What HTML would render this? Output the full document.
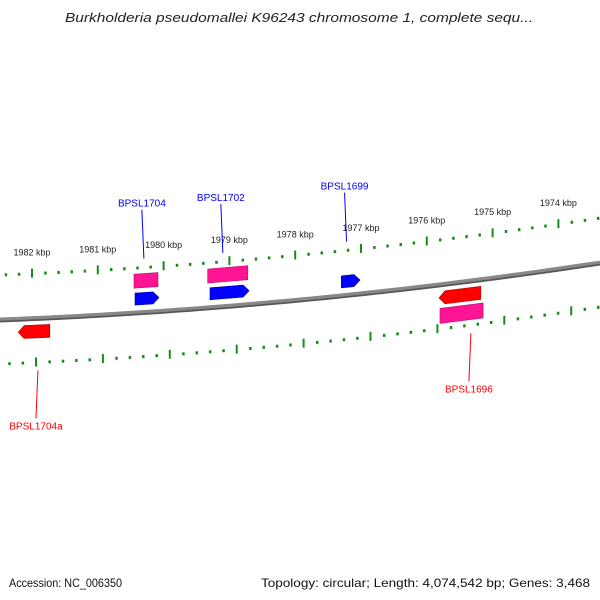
<!DOCTYPE html>
<html><head><meta charset="utf-8"><style>
body{margin:0;background:#fff}
svg{display:block;font-family:"Liberation Sans","DejaVu Sans",sans-serif}
</style></head><body>
<svg id="c" width="600" height="600" viewBox="0 0 600 600">
<text x="65" y="22" textLength="468" lengthAdjust="spacingAndGlyphs" font-size="13" font-style="italic" fill="#222">Burkholderia pseudomallei K96243 chromosome 1, complete sequ...</text>
<g id="g"></g>
<text x="9" y="587" textLength="113" lengthAdjust="spacingAndGlyphs" font-size="12" fill="#111">Accession: NC_006350</text>
<text x="261" y="587" textLength="329" lengthAdjust="spacingAndGlyphs" font-size="12" fill="#111">Topology: circular; Length: 4,074,542 bp; Genes: 3,468</text>
</svg>
<script>
const tickKbp=[1982,1981,1980,1979,1978,1977,1976,1975,1974];
const tickLabels=["1982 kbp","1981 kbp","1980 kbp","1979 kbp","1978 kbp","1977 kbp","1976 kbp","1975 kbp","1974 kbp"];
const geneNames=["BPSL1704","BPSL1704","BPSL1702","BPSL1702","BPSL1699","BPSL1704a","BPSL1696","BPSL1696"];
const geneStart=[1980.435,1980.45,1979.295,1979.33,1977.30,1982.21,1975.815,1975.80];
const geneEnd=[1980.07,1980.085,1978.70,1978.72,1977.015,1981.73,1975.18,1975.145];
const geneStrand=["+","cds+","+","cds+","+","-","-","cds-"];
const labelGenes=[{n:"BPSL1704",k:1980.33,side:1},{n:"BPSL1702",k:1979.13,side:1},{n:"BPSL1699",k:1977.25,side:1},{n:"BPSL1704a",k:1981.94,side:-1},{n:"BPSL1696",k:1975.36,side:-1}];
const NS="http://www.w3.org/2000/svg";
const g=document.getElementById('g');
function xs(k){return 32+(1982-k)*65.8;}
function xb(k){return 36+(1982-k)*66.9;}
function cy(x){return 320-0.0383*x-0.0000944*x*x;}
function mk(t,a){const e=document.createElementNS(NS,t);for(const k in a)e.setAttribute(k,a[k]);g.appendChild(e);return e;}
let d="";for(let x=0;x<=600;x+=10)d+=(x?"L":"M")+x+" "+cy(x).toFixed(2);
let bb=mk('path',{d:d,stroke:"#888",'stroke-width':5,fill:"none"});


let bb2=mk('path',{d:d,stroke:"#555",'stroke-width':1.5,fill:"none",transform:"translate(0,1.5)"});


for(let k=1983;k>=1973;k-=0.2){
  const kk=Math.round(k*10)/10;const major=Math.abs(kk-Math.round(kk))<0.01;
  [[xs(kk),-45],[xb(kk),44]].forEach(([x,off])=>{
    if(x<0||x>600)return;const y=cy(x)+off;
    const t=mk('rect',{x:x-1,y:major?y-5:y-1.5,width:major?2:2.5,height:major?9:3,fill:"#1a8a1a"});
    
    
  });
}
tickKbp.forEach((k,i)=>{const x=xs(k);const t=mk('text',{x:x,y:cy(x)-63,'text-anchor':'middle','font-size':9,fill:"#222"});t.textContent=tickLabels[i];

});
function poly(x1,x2,off,h,dir){const pts=[];const tip=6;
  const yc=x=>cy(x)+off;
  if(dir>0){pts.push([x1,yc(x1)-h/2],[x2-tip,yc(x2-tip)-h/2],[x2,yc(x2)],[x2-tip,yc(x2-tip)+h/2],[x1,yc(x1)+h/2]);}
  else if(dir<0){pts.push([x1,yc(x1)],[x1+tip,yc(x1+tip)-h/2],[x2,yc(x2)-h/2],[x2,yc(x2)+h/2],[x1+tip,yc(x1+tip)+h/2]);}
  else{pts.push([x1,yc(x1)-h/2],[x2,yc(x2)-h/2],[x2,yc(x2)+h/2],[x1,yc(x1)+h/2]);}
  return pts.map(p=>p[0].toFixed(1)+","+p[1].toFixed(1)).join(" ");}
geneNames.forEach((n,i)=>{
  const x1=xs(geneStart[i]),x2=xs(geneEnd[i]);const s=geneStrand[i];
  let off,h,dir,col,dark;
  if(s=="+"){off=-14;h=12;dir=1;col="#0000ff";dark="#0000aa";}
  else if(s=="cds+"){off=-32;h=14;dir=0;col="#ff1493";dark="#b0106a";}
  else if(s=="-"){off=13;h=13;dir=-1;col="#ff0000";dark="#b00000";}
  else{off=31;h=15;dir=0;col="#ff1493";dark="#b0106a";}
  const p=mk('polygon',{points:poly(x1,x2,off,h,dir),fill:col,stroke:dark,'stroke-width':0.6});
  
  
});
labelGenes.forEach(L=>{
  const x=xs(L.k);const col=L.side>0?"#0000ff":"#ff0000";
  let y1,y2,ty;
  if(L.side>0){y1=cy(x)-54;y2=cy(x)-103;ty=y2-3;}
  else{y1=cy(x)+52;y2=cy(x)+100;ty=y2+11;}
  const ln=mk('line',{x1:x+2,y1:y1,x2:x,y2:y2,stroke:col,'stroke-width':1});
  
  
  const t=mk('text',{x:x,y:ty,'text-anchor':'middle','font-size':10,fill:col});t.textContent=L.n;
  
  
});
</script>
</body></html>
